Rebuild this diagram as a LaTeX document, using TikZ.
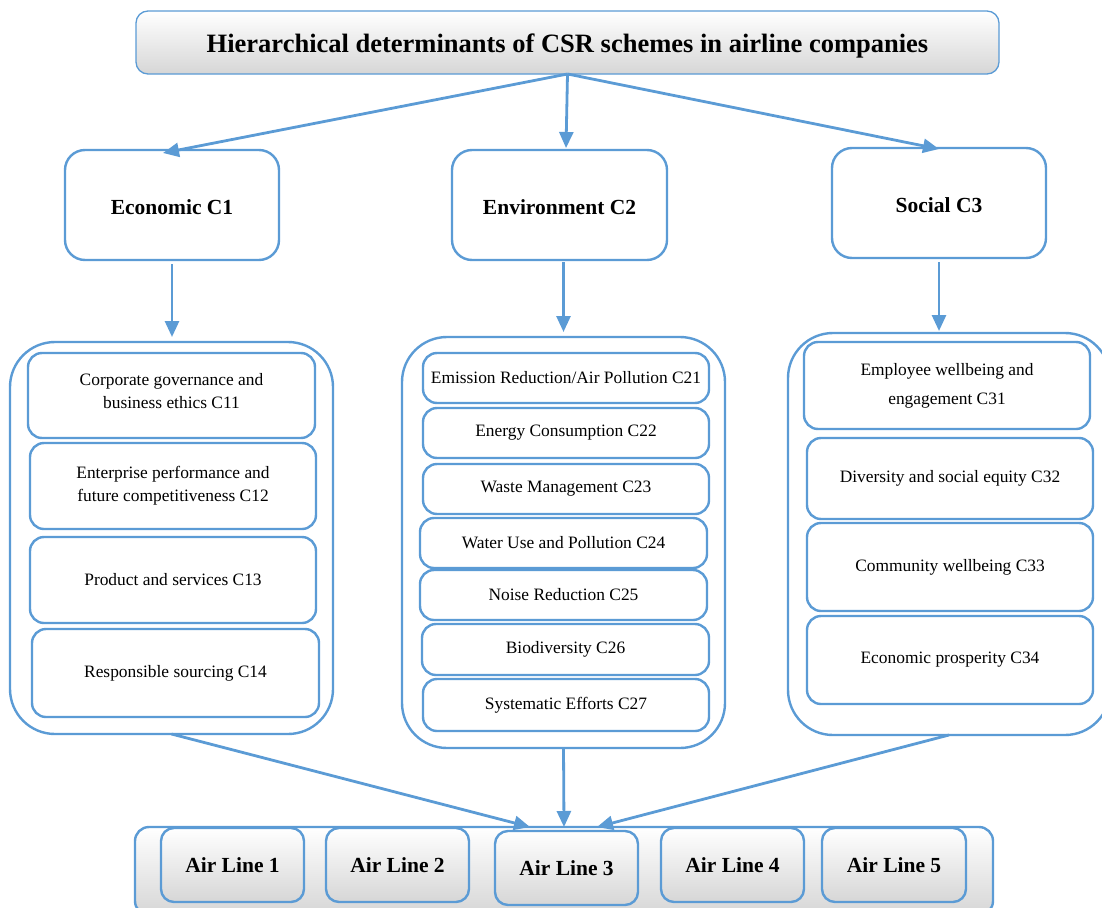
\documentclass[tikz,border=0pt]{standalone}
\usepackage{fontspec}
\setmainfont{Liberation Serif}
\usetikzlibrary{arrows.meta}
\definecolor{ob}{HTML}{5B9BD5}
\begin{document}
\begin{tikzpicture}[x=1pt,y=-1pt,
  base/.style={draw=ob, line width=2.4pt, inner sep=0pt, outer sep=0pt, align=center},
  titlebox/.style={base, line width=1.3pt, rounded corners=12pt, top color=white, middle color=white, bottom color=black!16,
     font=\fontsize{26.5}{30}\selectfont\bfseries},
  catbox/.style={base, rounded corners=20pt, fill=white, font=\fontsize{21.5}{26}\selectfont\bfseries},
  contbox/.style={base, rounded corners=45pt},
  subbox/.style={base, rounded corners=14pt, fill=white, font=\fontsize{17.4}{23}\selectfont},
  bottombox/.style={base, rounded corners=14pt, top color=white, middle color=white, bottom color=black!16},
  airbox/.style={base, rounded corners=13pt, top color=white, middle color=white, bottom color=black!16,
     font=\fontsize{21.5}{26}\selectfont\bfseries},
  arr/.style={draw=ob, line width=2.8pt, -{Triangle[length=16pt,width=14pt]}}
]
\useasboundingbox (0,0) rectangle (1102,907);

% title
\node[titlebox, minimum width=863, minimum height=63] (title) at (567.5,42.5)
  {\raisebox{-3.5pt}[\height][\depth]{Hierarchical determinants of CSR schemes in airline companies}};

% category boxes
\node[catbox, minimum width=214, minimum height=110] (econ) at (172,205) {\raisebox{-2pt}[\height][\depth]{Economic C1}};
\node[catbox, minimum width=215, minimum height=110] (env) at (559.5,205) {\raisebox{-2pt}[\height][\depth]{Environment C2}};
\node[catbox, minimum width=214, minimum height=110] (soc) at (939,203) {\raisebox{-2pt}[\height][\depth]{Social C3}};

% containers
\node[contbox, minimum width=323, minimum height=392] (lcont) at (171.5,538) {};
\node[contbox, minimum width=323, minimum height=411] (mcont) at (563.5,542.5) {};
\node[contbox, minimum width=322, minimum height=402] (rcont) at (949,534) {};

% economic sub-criteria
\node[subbox, minimum width=287, minimum height=85] (c11) at (171.5,395.5) {Corporate governance and\\business ethics C11\\[-14.5pt]\mbox{}};
\node[subbox, minimum width=286, minimum height=86] (c12) at (173,486) {Enterprise performance and\\future competitiveness C12};
\node[subbox, minimum width=286, minimum height=86] (c13) at (173,580) {Product and services C13};
\node[subbox, minimum width=287, minimum height=88] (c14) at (175.5,673) {Responsible sourcing C14};

% environment sub-criteria
\node[subbox, minimum width=286, minimum height=50] (c21) at (566,378) {Emission Reduction/Air Pollution C21};
\node[subbox, minimum width=286, minimum height=50] (c22) at (566,433) {Energy Consumption C22};
\node[subbox, minimum width=286, minimum height=50] (c23) at (566,489) {Waste Management C23};
\node[subbox, minimum width=287, minimum height=50] (c24) at (563.5,543) {Water Use and Pollution C24};
\node[subbox, minimum width=287, minimum height=50] (c25) at (563.5,595) {Noise Reduction C25};
\node[subbox, minimum width=287, minimum height=51] (c26) at (565.5,649.5) {Biodiversity C26};
\node[subbox, minimum width=286, minimum height=52] (c27) at (566,705) {Systematic Efforts C27};

% social sub-criteria
\node[subbox, minimum width=286, minimum height=87, font=\fontsize{17.4}{29}\selectfont] (c31) at (947,385.5) {Employee wellbeing and\\engagement C31};
\node[subbox, minimum width=286, minimum height=81] (c32) at (950,478.5) {Diversity and social equity C32};
\node[subbox, minimum width=286, minimum height=88] (c33) at (950,567) {Community wellbeing C33};
\node[subbox, minimum width=286, minimum height=88] (c34) at (950,660) {Economic prosperity C34};

% bottom
\node[bottombox, minimum width=858, minimum height=88] (bcont) at (564,871) {};
\node[airbox, minimum width=143, minimum height=74] (al1) at (232.5,865) {Air Line 1};
\node[airbox, minimum width=143, minimum height=74] (al2) at (397.5,865) {Air Line 2};
\node[airbox, minimum width=143, minimum height=74] (al3) at (566.5,868) {Air Line 3};
\node[airbox, minimum width=143, minimum height=74] (al4) at (732.5,865) {Air Line 4};
\node[airbox, minimum width=144, minimum height=74] (al5) at (894,865) {Air Line 5};

% connectors
\draw[arr] (title.south) -- ([xshift=-9pt,yshift=-3pt]econ.north);
\draw[arr] (title.south) -- ([xshift=6.5pt,yshift=2pt]env.north);
\draw[arr] (title.south) -- ([yshift=-1pt]soc.north);
\draw[arr, shorten <=4pt, shorten >=5pt] (econ.south) -- (econ.south |- lcont.north);
\draw[arr, shorten <=2pt, shorten >=5pt] (env.south -| mcont.north) -- (mcont.north);
\draw[arr, shorten <=4pt, shorten >=2pt] (soc.south) -- (soc.south |- rcont.north);
\draw[arr] (lcont.south) -- ([xshift=-34pt]bcont.north);
\draw[arr] (mcont.south) -- (bcont.north);
\draw[arr] (rcont.south) -- ([xshift=33pt]bcont.north);
\end{tikzpicture}
\end{document}
